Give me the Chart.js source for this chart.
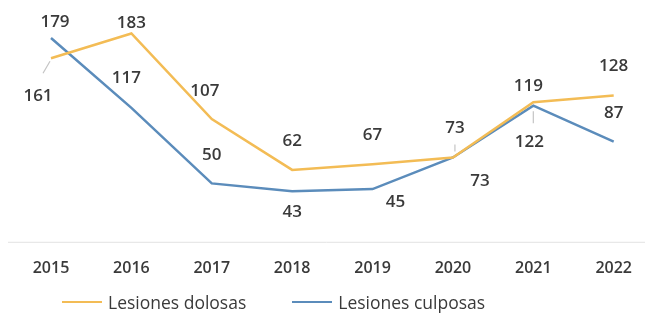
<!DOCTYPE html>
<html>
<head>
<meta charset="utf-8">
<script src="https://cdn.jsdelivr.net/npm/chart.js@4"></script>
<style>
  html, body { margin: 0; padding: 0; background: #fff; }
  #wrap { width: 651px; height: 319px; position: relative; overflow: hidden; }
  #chart { position: absolute; left: 0; top: 0; }
  #legend {
    position: absolute; left: 62px; top: 290px; height: 24px;
    display: flex; align-items: center;
    font-family: 'Open Sans', 'DejaVu Sans', sans-serif; font-weight: 500;
    font-size: 17.5px; color: #3a3a3a;
  }
  .item { display: flex; align-items: center; margin-right: 46px; }
  .swatch { width: 40px; height: 2.5px; margin-right: 6px; }
</style>
</head>
<body>
<div id="wrap">
  <canvas id="chart" width="651" height="304"></canvas>
  <div id="legend"></div>
</div>
<script>
// Datos
const years = ['2015', '2016', '2017', '2018', '2019', '2020', '2021', '2022'];
const dolosas = [161, 183, 107, 62, 67, 73, 122, 128];
const culposas = [179, 117, 50, 43, 45, 73, 119, 87];

const orange = '#F3BC55';
const blue = '#5B8CBB';
const textColor = '#3a3a3a';
const fontFamily = "'Open Sans', 'DejaVu Sans', sans-serif";

// desplazamiento de etiquetas respecto al punto [dx, dy]
const labelOffsets = [
    [[-13, 38], [0, -10], [-7, -28], [0, -29], [0, -29], [2, -29], [-4, 40], [0, -29]],
    [[4, -16], [-5, -30], [0, -28], [0, 21], [23, 13], [27, 24], [-5, -19], [0, -29]]
];
// líneas guía [datasetIndex, pointIndex, x1, y1, x2, y2] relativas al punto
const leaders = [
    [0, 0, -8, 15, -1, 3],
    [0, 5, 2, -13, 2, -6],
    [0, 6, 0, 9, 0, 21]
];

const valueLabels = {
    id: 'valueLabels',
    beforeDatasetsDraw(chart) {
        const ctx = chart.ctx;
        const y = chart.chartArea.bottom + 2;
        ctx.save();
        ctx.strokeStyle = '#e2e2e2';
        ctx.lineWidth = 1;
        ctx.beginPath();
        ctx.moveTo(8, y + 0.5);
        ctx.lineTo(645, y + 0.5);
        ctx.stroke();
        ctx.restore();
    },
    afterDatasetsDraw(chart) {
        const ctx = chart.ctx;
        ctx.save();
        ctx.strokeStyle = '#c4c4c4';
        ctx.lineWidth = 1.2;
        leaders.forEach(l => {
            const p = chart.getDatasetMeta(l[0]).data[l[1]];
            ctx.beginPath();
            ctx.moveTo(p.x + l[2], p.y + l[3]);
            ctx.lineTo(p.x + l[4], p.y + l[5]);
            ctx.stroke();
        });
        ctx.fillStyle = textColor;
        ctx.font = '600 17px ' + fontFamily;
        ctx.textAlign = 'center';
        ctx.textBaseline = 'middle';
        chart.data.datasets.forEach((ds, di) => {
            chart.getDatasetMeta(di).data.forEach((p, i) => {
                const off = labelOffsets[di][i];
                ctx.fillText(String(ds.data[i]), p.x + off[0], p.y + off[1]);
            });
        });
        ctx.restore();
    }
};

const ctx = document.getElementById('chart').getContext('2d');
const chart = new Chart(ctx, {
    type: 'line',
    data: {
        labels: years,
        datasets: [
            {
                label: 'Lesiones dolosas',
                data: dolosas,
                borderColor: orange,
                backgroundColor: orange,
                borderWidth: 2.5,
                pointRadius: 0,
                tension: 0
            },
            {
                label: 'Lesiones culposas',
                data: culposas,
                borderColor: blue,
                backgroundColor: blue,
                borderWidth: 2.5,
                pointRadius: 0,
                tension: 0
            }
        ]
    },
    options: {
        responsive: false,
        animation: false,
        layout: { padding: { left: 51, right: 34, top: 3, bottom: 7 } },
        scales: {
            x: {
                offset: false,
                grid: { display: false, drawTicks: false },
                border: { display: false },
                ticks: {
                    color: textColor,
                    padding: 19,
                    font: { family: fontFamily, size: 16, weight: '600' },
                    maxRotation: 0
                }
            },
            y: {
                display: false,
                min: 0,
                max: 210
            }
        },
        plugins: {
            tooltip: { enabled: false },
            legend: { display: false }
        }
    },
    plugins: [valueLabels]
});

// Leyenda
const legend = document.getElementById('legend');
chart.data.datasets.forEach(ds => {
    const item = document.createElement('div');
    item.className = 'item';
    const sw = document.createElement('span');
    sw.className = 'swatch';
    sw.style.background = ds.borderColor;
    const txt = document.createElement('span');
    txt.textContent = ds.label;
    item.appendChild(sw);
    item.appendChild(txt);
    legend.appendChild(item);
});
</script>
</body>
</html>
